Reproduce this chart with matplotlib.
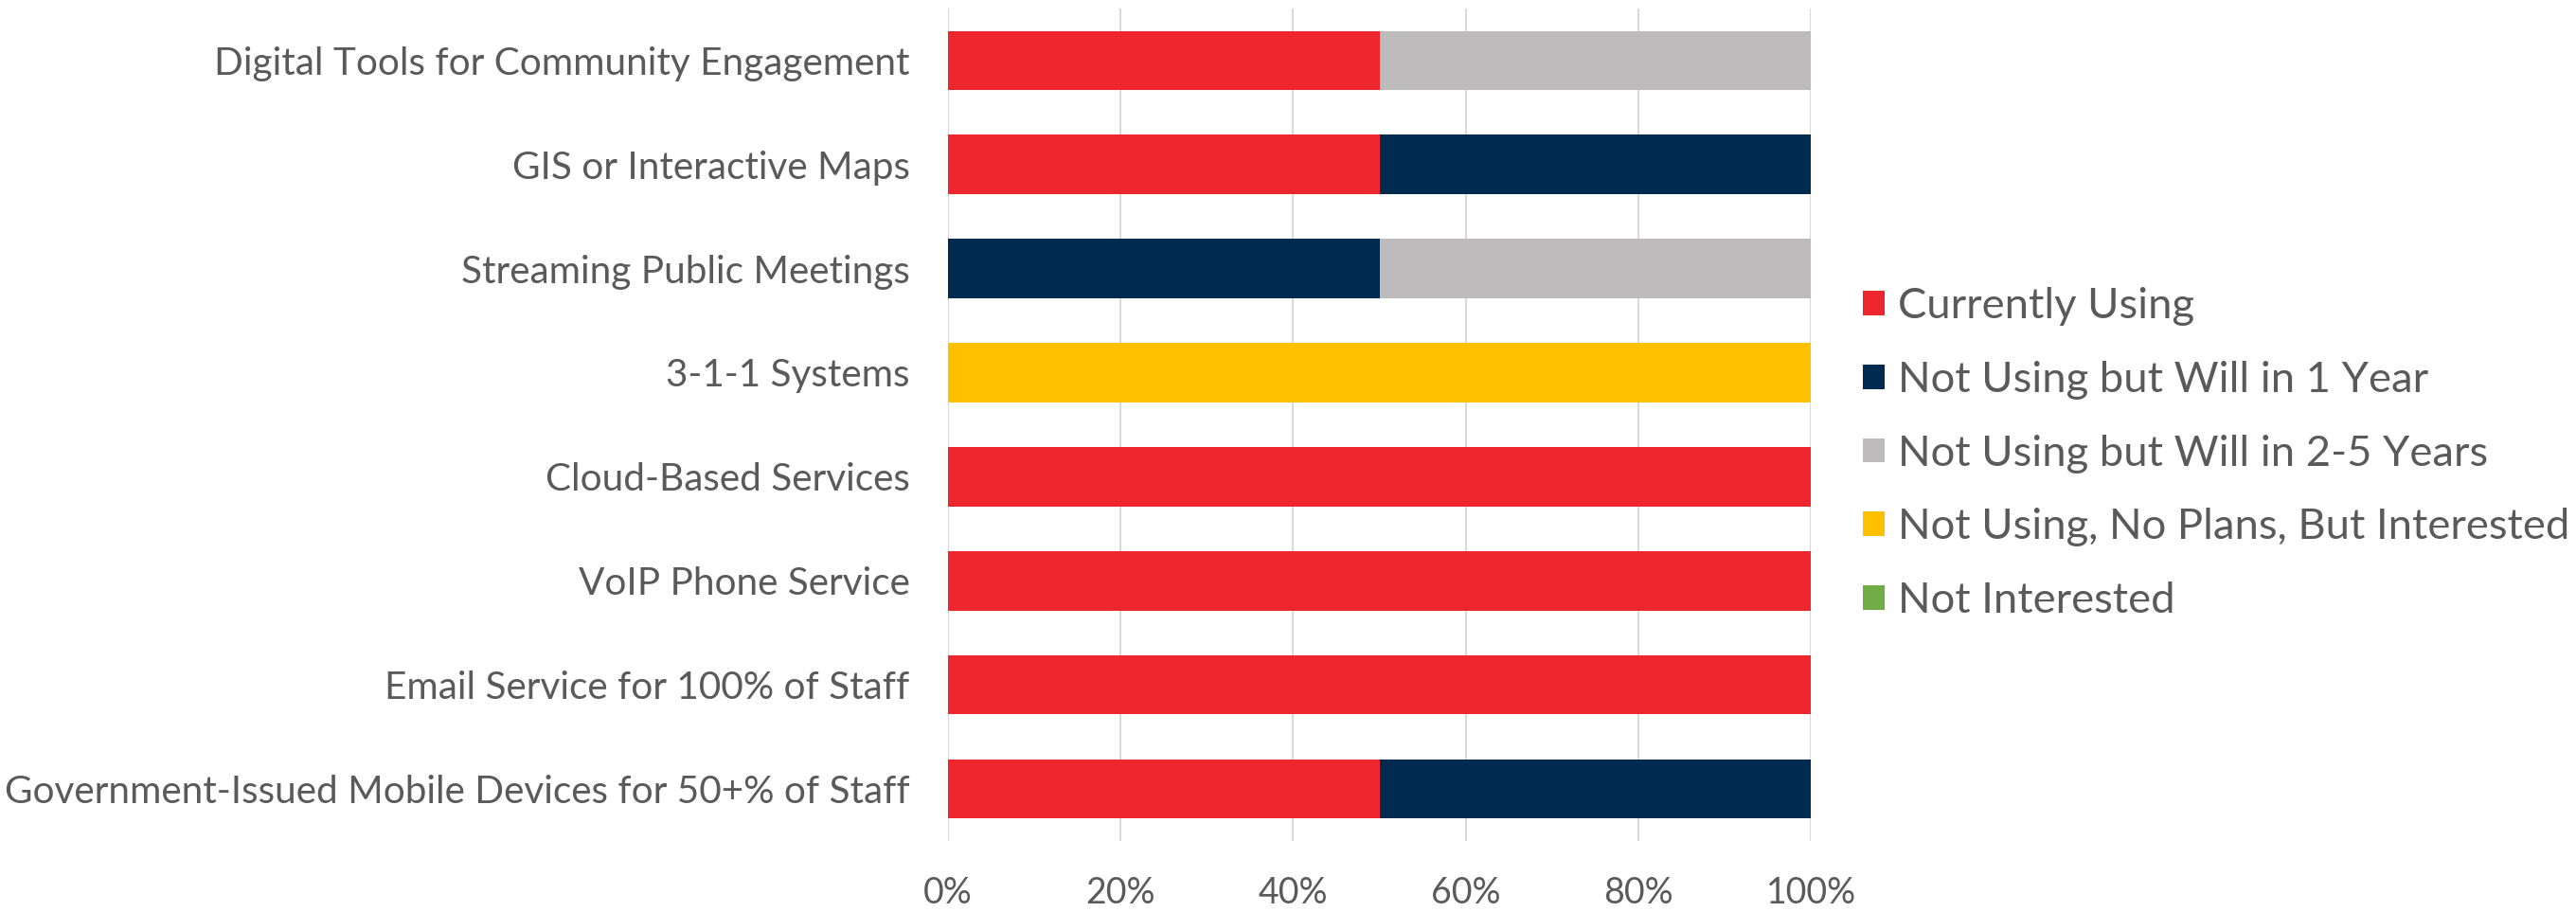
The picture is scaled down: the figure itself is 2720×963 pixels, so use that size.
import matplotlib
matplotlib.use("Agg")
import matplotlib.pyplot as plt
from matplotlib.patches import Patch
import numpy as np

categories = [
    "Digital Tools for Community Engagement",
    "GIS or Interactive Maps",
    "Streaming Public Meetings",
    "3-1-1 Systems",
    "Cloud-Based Services",
    "VoIP Phone Service",
    "Email Service for 100% of Staff",
    "Government-Issued Mobile Devices for 50+% of Staff",
]
series_names = [
    "Currently Using",
    "Not Using but Will in 1 Year",
    "Not Using but Will in 2-5 Years",
    "Not Using, No Plans, But Interested",
    "Not Interested",
]
currently_using = [0.5, 0.5, 0.0, 0.0, 1.0, 1.0, 1.0, 0.5]
will_in_1_year = [0.0, 0.5, 0.5, 0.0, 0.0, 0.0, 0.0, 0.5]
will_in_2_5_years = [0.5, 0.0, 0.5, 0.0, 0.0, 0.0, 0.0, 0.0]
no_plans_interested = [0.0, 0.0, 0.0, 1.0, 0.0, 0.0, 0.0, 0.0]
not_interested = [0.0, 0.0, 0.0, 0.0, 0.0, 0.0, 0.0, 0.0]
x_ticks = [0, 0.2, 0.4, 0.6, 0.8, 1.0]
x_tick_labels = ["0%", "20%", "40%", "60%", "80%", "100%"]

colors = ["#ED272D", "#002B50", "#BDBBBC", "#FFC000", "#70AD47"]
text_color = "#5A5A5A"

plt.rcParams["font.family"] = ["Lato", "DejaVu Sans"]
plt.rcParams["font.weight"] = "normal"

fig = plt.figure(figsize=(27.2, 9.63), dpi=100)
ax = fig.add_axes([0.368, 0.078, 0.335, 0.9127])

series = [currently_using, will_in_1_year, will_in_2_5_years, no_plans_interested, not_interested]
y = np.arange(len(categories))
left = np.zeros(len(categories))
for vals, c, name in zip(series, colors, series_names):
    vals = np.array(vals)
    ax.barh(y, vals, left=left, height=0.57, color=c, edgecolor="none", label=name, zorder=2)
    left += vals

ax.set_ylim(len(categories) - 0.5, -0.5)
ax.set_xlim(0, 1)
ax.set_yticks(y)
ax.set_yticklabels(categories, fontsize=29.2, color=text_color)
ax.set_xticks(x_ticks)
ax.set_xticklabels(x_tick_labels, fontsize=27, color=text_color)
ax.tick_params(axis="both", length=0)
ax.tick_params(axis="y", pad=29)
ax.tick_params(axis="x", pad=27)
ax.grid(axis="x", color="#D9D9D9", linewidth=1.5, zorder=0)
ax.set_axisbelow(True)
for s in ax.spines.values():
    s.set_visible(False)

handles = [Patch(facecolor=c, edgecolor="none") for c in colors]
fig.legend(handles, series_names, loc="center left", bbox_to_anchor=(0.7233, 0.5025),
           frameon=False, fontsize=32.7, labelcolor=text_color, handlelength=0.5,
           handleheight=0.5, handletextpad=0.3, labelspacing=0.81,
           borderpad=0, borderaxespad=0)

fig.savefig("out.png", dpi=100, facecolor="white")
